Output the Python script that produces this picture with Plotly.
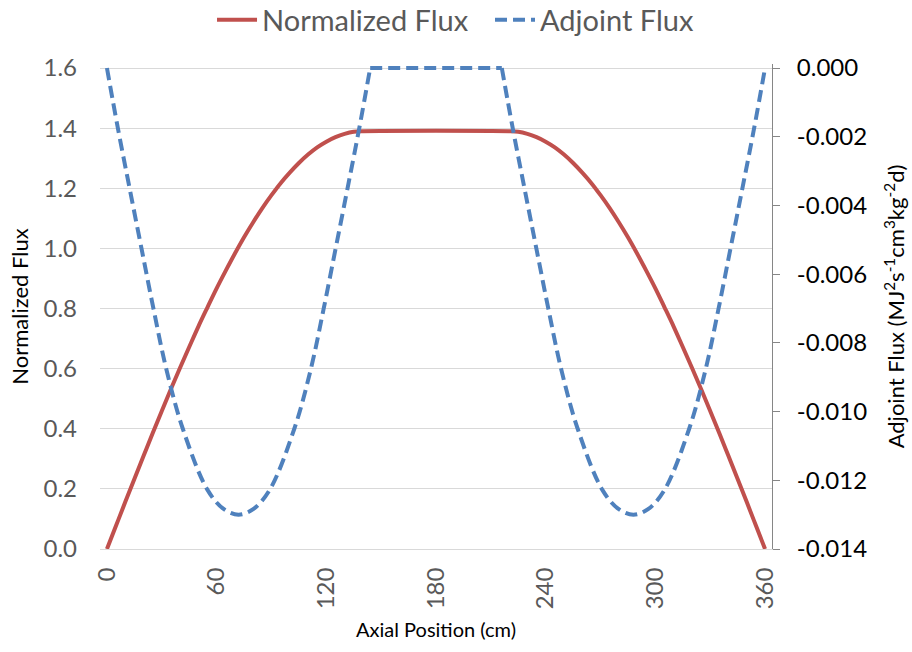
import plotly.graph_objects as go

# ---- data ----
x_norm = [0, 5, 10, 15, 20, 25, 30, 35, 40, 45, 50, 55, 60, 65, 70, 75, 80, 85, 90, 95,
          100, 105, 110, 115, 120, 125, 130, 135, 140,
          220, 225, 230, 235, 240, 245, 250, 255, 260, 265, 270, 275, 280, 285, 290,
          295, 300, 305, 310, 315, 320, 325, 330, 335, 340, 345, 350, 355, 360]
y_norm = [0.000, 0.078, 0.156, 0.233, 0.309, 0.385, 0.459, 0.532, 0.603, 0.672, 0.740, 0.804,
          0.867, 0.926, 0.983, 1.037, 1.087, 1.134, 1.177, 1.217, 1.252, 1.284, 1.312, 1.336,
          1.355, 1.370, 1.381, 1.388, 1.390,
          1.390, 1.388, 1.381, 1.370, 1.355, 1.336, 1.312, 1.284, 1.252, 1.217, 1.177, 1.134,
          1.087, 1.037, 0.983, 0.926, 0.867, 0.804, 0.740, 0.672, 0.603, 0.532, 0.459, 0.385,
          0.309, 0.233, 0.156, 0.078, 0.000]

x_adj = [0, 6, 12.5, 19, 25.5, 32.5, 41.5, 55, 64, 72, 80, 89, 102.5, 111.5, 118.5, 125, 131.5, 138, 144,
         216, 222, 228.5, 235, 241.5, 248.5, 257.5, 271, 280, 288, 296, 305, 318.5, 327.5, 334.5,
         341, 347.5, 354, 360]
y_adj = [0.0, -0.00176, -0.00353, -0.00528, -0.00702, -0.00877, -0.0105, -0.01228, -0.01284, -0.0130,
         -0.01284, -0.01228, -0.0105, -0.00877, -0.00702, -0.00528, -0.00353, -0.00176, 0.0,
         0.0, -0.00176, -0.00353, -0.00528, -0.00702, -0.00877, -0.0105, -0.01228, -0.01284, -0.0130,
         -0.01284, -0.01228, -0.0105, -0.00877, -0.00702, -0.00528, -0.00353, -0.00176, 0.0]

x_ticks = [0, 60, 120, 180, 240, 300, 360]
y1_ticks = [0.0, 0.2, 0.4, 0.6, 0.8, 1.0, 1.2, 1.4, 1.6]
y2_ticks = [-0.014, -0.012, -0.010, -0.008, -0.006, -0.004, -0.002, 0.000]

RED = "#C0504D"
BLUE = "#4F81BD"
GRAY = "#595959"
FONT = "Lato, Calibri, sans-serif"

# plot area: gridlines from 0.0 to 1.6 span 481 px; a few px of headroom so the
# plateau line at the very top is not clipped
H_DATA = 481.0
PAD = 4.0
y1_top = 1.6 + 1.6 * PAD / H_DATA
y2_top = 0.0 + 0.014 * PAD / H_DATA

# split the adjoint curve into its two dips and the flat top (sharp corners at the plateau)
flat_i = [i for i in range(len(y_adj) - 1) if y_adj[i] == 0 and y_adj[i + 1] == 0][0]
seg_dip1 = (x_adj[:flat_i + 1], y_adj[:flat_i + 1])
seg_flat = (x_adj[flat_i:flat_i + 2], y_adj[flat_i:flat_i + 2])
seg_dip2 = (x_adj[flat_i + 1:], y_adj[flat_i + 1:])

adj_line = dict(color=BLUE, width=4, dash="12px,6px")

fig = go.Figure()
fig.add_trace(go.Scatter(x=x_norm, y=y_norm, name="Normalized Flux", mode="lines",
                         line=dict(color=RED, width=4, shape="spline", smoothing=1)))
fig.add_trace(go.Scatter(x=seg_dip1[0], y=seg_dip1[1], name="Adjoint Flux", mode="lines", yaxis="y2",
                         legendgroup="adj",
                         line=dict(**adj_line, shape="spline", smoothing=1)))
fig.add_trace(go.Scatter(x=seg_flat[0], y=seg_flat[1], name="Adjoint Flux", mode="lines", yaxis="y2",
                         legendgroup="adj", showlegend=False, line=dict(**adj_line)))
fig.add_trace(go.Scatter(x=seg_dip2[0], y=seg_dip2[1], name="Adjoint Flux", mode="lines", yaxis="y2",
                         legendgroup="adj", showlegend=False,
                         line=dict(**adj_line, shape="spline", smoothing=1)))

fig.update_layout(
    width=912, height=652,
    margin=dict(l=100, r=140, t=68 - PAD, b=103, autoexpand=False),
    paper_bgcolor="white", plot_bgcolor="white",
    font=dict(family=FONT, color=GRAY, size=24),
    showlegend=True,
    legend=dict(orientation="h", x=0.1667, xanchor="left", y=1.0 + (48 - PAD) / (H_DATA + PAD),
                yanchor="middle",
                font=dict(family=FONT, size=29, color=GRAY), itemwidth=40,
                entrywidth=223, entrywidthmode="pixels",
                bgcolor="rgba(0,0,0,0)", traceorder="normal"),
    xaxis=dict(range=[-3.8, 363.8], tickvals=x_ticks, ticktext=[str(v) for v in x_ticks],
               tickangle=-90, showgrid=False, zeroline=False,
               showline=True, linecolor="#D9D9D9", linewidth=1, ticks="",
               ticklabelstandoff=8,
               tickfont=dict(family=FONT, size=24, color=GRAY),
               title=dict(text="Axial Position (cm)", standoff=14,
                          font=dict(family=FONT, size=20, color="black"))),
    yaxis=dict(range=[0, y1_top], tickvals=y1_ticks, ticktext=[f"{v:.1f}" for v in y1_ticks],
               showgrid=True, gridcolor="#D9D9D9", gridwidth=1, zeroline=False,
               showline=False, ticks="", ticklabelstandoff=22,
               tickfont=dict(family=FONT, size=24, color=GRAY),
               title=dict(text="Normalized Flux", standoff=8,
                          font=dict(family=FONT, size=22, color="black"))),
    yaxis2=dict(range=[-0.014, y2_top], tickvals=y2_ticks, ticktext=[f"{v:.3f}" for v in y2_ticks],
                overlaying="y", side="right", showgrid=False, zeroline=False,
                showline=True, linecolor="#868686", linewidth=1,
                ticks="outside", ticklen=7, tickcolor="#868686", tickwidth=1,
                ticklabelstandoff=12,
                tickfont=dict(family=FONT, size=24, color="black"),
                title=dict(text="Adjoint Flux (MJ<sup>2</sup>s<sup>-1</sup>cm<sup>3</sup>kg<sup>-2</sup>d)",
                           standoff=22, font=dict(family=FONT, size=22, color="black"))),
)

fig.write_html("out.html")
